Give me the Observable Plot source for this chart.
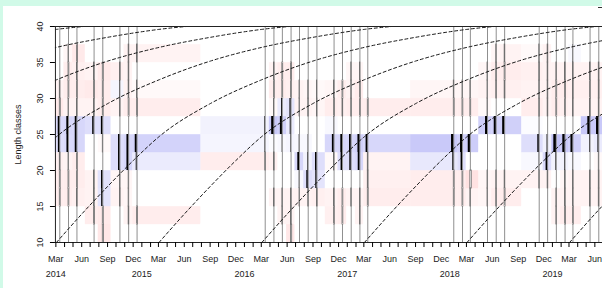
<!DOCTYPE html>
<html><head><meta charset="utf-8">
<script src="https://cdn.jsdelivr.net/npm/d3@7"></script>
<script src="https://cdn.jsdelivr.net/npm/@observablehq/plot@0.6"></script>
<style>
html,body{margin:0;padding:0;background:#d1fae8;overflow:hidden;width:602px;height:288px;position:relative}
#panel{position:absolute;left:3px;top:6px;width:640px;height:282px;background:#fff;overflow:hidden}
#mark{position:absolute;left:598px;top:7px;width:4px;height:1px;background:#333}
</style></head><body><div id="panel"></div><div id="mark"></div>
<script>
// sample dates (mid-month samples)
const sampleDates = [
  "2014-03-15","2014-04-15","2014-05-15","2014-07-15","2014-08-15","2014-10-15","2014-11-15","2014-12-15",
  "2016-03-15","2016-04-15","2016-05-15","2016-06-15","2016-07-15","2016-08-15","2016-09-15","2016-11-15","2016-12-15",
  "2017-01-15","2017-02-15","2017-03-15",
  "2018-01-15","2018-02-15","2018-03-15","2018-05-15","2018-06-15","2018-07-15",
  "2018-11-15","2018-12-15","2019-01-15","2019-02-15","2019-03-15","2019-05-15","2019-06-15"
];
// lower bounds of the length classes (width 2.5)
const lengthClasses = [10, 12.5, 15, 17.5, 20, 22.5, 25, 27.5, 30, 32.5, 35, 37.5];
const classWidth = 2.5;
// restructured scores, one row per sample, one value per length class
const scores = [
  [ 0,    0,   -0.3, -0.3, -0.25, 0.5,  0.55, -0.35, -0.2,  0,     0,    0],
  [ 0,    0,   -0.3, -0.3, -0.2,  0.55, 0.6,  -0.2,  -0.3, -0.3,  -0.15, 0],
  [ 0,    0,   -0.25,-0.3, -0.3,  0.6,  0.6,  -0.2,  -0.3, -0.25, -0.35, 0],
  [ 0,   -0.3, -0.2, -0.2,  0,    0,    0.5,  -0.2,  -0.35,-0.2,   0,    0],
  [-0.4, -0.35, 0.4,  0.45, 0,   -0.1,  0.5,  -0.3,  -0.3, -0.35,  0,    0],
  [ 0,    0,   -0.2, -0.15, 0.5,  0.5,  0,    -0.2,   0.15,-0.25,  0,    0],
  [ 0,   -0.2, -0.15,-0.15, 0.6,  0.6,  0,    -0.3,  -0.2, -0.2,  -0.2,  0],
  [ 0,   -0.3,  0,    0,    0.3,  0.65, 0,    -0.3,  -0.1,  0,    -0.2,  0],
  [ 0,    0,    0,    0,   -0.3,  0.15, 0.2,   0,     0,    0,     0,    0],
  [ 0,    0,   -0.2,  0,   -0.25, 0.05, 0.8,  -0.1,  -0.3, -0.2,   0,    0],
  [ 0,   -0.2, -0.2,  0,    0,    0.1,  0.7,   0.3,  -0.3, -0.3,   0,    0],
  [-0.4, -0.2, -0.2,  0,    0,    0.15, 0.3,   0.4,  -0.25,-0.3,   0,    0],
  [ 0,    0,   -0.2,  0.1,  0.6,  0.1,  0,    -0.2,  -0.2,  0,     0,    0],
  [ 0,    0,   -0.2,  0.5,  0.2,  0.1,  0,    -0.2,  -0.15, 0,     0,    0],
  [ 0,    0,   -0.25, 0.4,  0.5,  0,    0,    -0.15, -0.1,  0,     0,    0],
  [ 0,   -0.25,-0.2,  0,   -0.1,  0.6,  0.1,  -0.3,  -0.15, 0,     0,    0],
  [ 0,   -0.3, -0.3,  0,    0.5,  0.6,  0,    -0.25, -0.3,  0,     0,    0],
  [ 0,    0,   -0.2,  0,    0.5,  0.6,  0,    -0.3,  -0.2, -0.15,  0,    0],
  [ 0,   -0.2, -0.2,  0,    0.6,  0.7,  0,    -0.3,  -0.3, -0.15,  0,    0],
  [ 0,    0,   -0.3, -0.25,-0.2,  0.6,  0,    -0.3,   0,    0,     0,    0],
  [ 0,    0,   -0.3, -0.3,  0.35, 0.8,  0,    -0.3,  -0.15, 0,     0,    0],
  [ 0,    0,   -0.3, -0.3,  0.5,  0.7,  0,    -0.3,  -0.15, 0,     0,    0],
  [ 0,    0,   -0.2, -0.5,  0,    0.75, 0,    -0.3,  -0.15, 0,     0,    0],
  [ 0,    0,   -0.15,-0.15, 0,    0,    0.7,  -0.1,  -0.2, -0.15,  0,    0],
  [ 0,    0,   -0.3, -0.2,  0,    0,    0.7,   0,    -0.25,-0.3,  -0.15, 0],
  [ 0,    0,   -0.3, -0.2,  0,    0,    0.7,   0,    -0.25,-0.3,  -0.2,  0],
  [ 0,    0,    0,   -0.2,  0.1,  0.5,  0.05, -0.3,  -0.2, -0.25, -0.1,  0],
  [ 0,    0,    0,   -0.2,  0.55, 0.2,  0,    -0.2,  -0.2, -0.2,  -0.2,  0],
  [ 0,   -0.2, -0.2,  0,    0.2,  0.9,  0,    -0.3,  -0.3, -0.2,   0,    0],
  [ 0,   -0.3, -0.2, -0.15, 0.2,  0.8,  0,    -0.25, -0.3, -0.2,   0,    0],
  [ 0,   -0.3, -0.2, -0.2,  0.1,  0.7,  0,    -0.2,  -0.25,-0.2,   0.1,  0],
  [ 0,    0,   -0.2, -0.2,  0,    0.2,  0.8,  -0.2,  -0.25,-0.2,   0,    0],
  [ 0,    0,   -0.2, -0.2, -0.1,  0.3,  0.8,  -0.2,  -0.25,-0.2,   0,    0]
];
// growth curve: length at years after reaching 10
const growthAge    = [0, 0.25, 0.5, 0.75, 1, 1.5, 2, 2.5, 3, 3.5, 4, 4.5, 5, 6];
const growthLength = [10, 14.0, 17.8, 21.4, 24.7, 29.3, 32.6, 35.2, 37.1, 38.5, 39.6, 40.3, 40.9, 41.6];
const cohortStarts = ["2010-03-03","2011-03-03","2012-03-03","2013-03-03","2014-03-03","2015-03-03","2016-03-03","2017-03-03","2018-03-03","2019-03-03"];
// axis labels
const yTicks = [10, 15, 20, 25, 30, 35, 40];
const monthLabels = {2: "Mar", 5: "Jun", 8: "Sep", 11: "Dec"};
const yearLabels = ["2014", "2015", "2016", "2017", "2018", "2019"];
const yearLabelDates = ["2014-03-01", "2015-01-01", "2016-01-01", "2017-01-01", "2018-01-01", "2019-01-01"];
const yLabel = "Length classes";

const DAY = 864e5;
const dates = sampleDates.map(d => new Date(d));
const n = dates.length;
const cells = [], barsPos = [], barsNeg = [];
dates.forEach((d, i) => {
  const t = +d;
  const left = i === 0 ? t - (+dates[1] - t) / 2 : (+dates[i - 1] + t) / 2;
  const right = i === n - 1 ? t + (t - +dates[n - 2]) / 2 : (t + +dates[i + 1]) / 2;
  lengthClasses.forEach((lc, j) => {
    const v = scores[i][j];
    cells.push({x1: new Date(left), x2: new Date(right), y1: lc, y2: lc + classWidth, v});
    const w = Math.abs(v) * 10 * DAY;
    if (v > 0) barsPos.push({x1: new Date(t - w), x2: d, y1: lc, y2: lc + classWidth});
    else if (v < 0) barsNeg.push({x1: d, x2: new Date(t + w), y1: lc, y2: lc + classWidth});
  });
});
const curves = [];
cohortStarts.forEach((c, k) => {
  const t0 = +new Date(c);
  growthAge.forEach((a, j) => curves.push({cohort: k, date: new Date(t0 + a * 365.25 * DAY), L: growthLength[j]}));
});
const monthTicks = d3.utcMonth.range(new Date(Date.UTC(2014, 2, 1)), new Date(Date.UTC(2019, 6, 1)));
const yearTicks = yearLabelDates.map(d => new Date(d));

const chart = Plot.plot({
  width: 637, height: 282,
  marginLeft: 51.94, marginRight: 37.5, marginTop: 20, marginBottom: 46,
  style: {fontFamily: "'Liberation Sans', Arial, sans-serif", fontSize: "9px", background: "white", color: "black"},
  x: {type: "utc", domain: [new Date("2014-02-27T12:00:00Z"), new Date("2019-06-30T00:00:00Z")]},
  y: {domain: [10, 40]},
  color: {type: "linear", domain: [-1, 0, 1], range: ["#ffc4c4", "#ffffff", "#bcbcf7"]},
  marks: [
    Plot.rect(cells, {x1: "x1", x2: "x2", y1: "y1", y2: "y2", fill: "v", stroke: "v", strokeWidth: 0.4}),
    Plot.ruleX(dates, {x: d => d, y1: 10, y2: 40, stroke: "#8f8f8f", strokeWidth: 1}),
    Plot.rect(barsNeg, {x1: "x1", x2: "x2", y1: "y1", y2: "y2", fill: "white", stroke: "#6f6f6f", strokeWidth: 0.8}),
    Plot.rect(barsPos, {x1: "x1", x2: "x2", y1: "y1", y2: "y2", fill: "black"}),
    Plot.line(curves, {x: "date", y: "L", z: "cohort", stroke: "#1a1a1a", strokeWidth: 1, strokeDasharray: "3,2.6", curve: "monotone-x", clip: true}),
    Plot.frame({stroke: "#222"}),
    Plot.axisY({ticks: yTicks, tickSize: 5, tickFormat: () => ""}),
    Plot.text(yTicks, {y: d => d, text: d => String(d), frameAnchor: "left", dx: -15.3, rotate: -90, textAnchor: "middle", lineAnchor: "middle", fill: "#222"}),
    Plot.text([yLabel], {frameAnchor: "left", dx: -37, rotate: -90, textAnchor: "middle", lineAnchor: "middle", fill: "#222"}),
    Plot.axisX({ticks: monthTicks, tickSize: 5, tickPadding: 8, tickFormat: d => monthLabels[d.getUTCMonth()] || "", fill: "#222"}),
    Plot.axisX({ticks: yearTicks, tickSize: 0, tickPadding: 28, tickFormat: d => yearLabels[yearTicks.findIndex(y => +y === +d)], fill: "#222"})
  ]
});
document.getElementById("panel").appendChild(chart);
</script></body></html>
